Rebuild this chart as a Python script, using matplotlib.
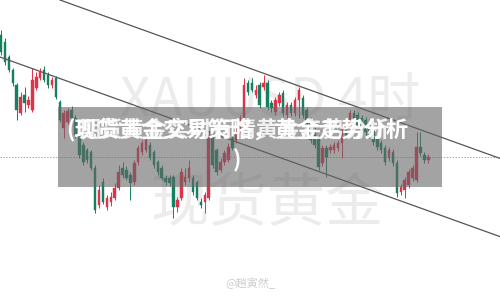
import matplotlib
matplotlib.use("Agg")
import matplotlib.pyplot as plt
from matplotlib.patches import Rectangle

plt.rcParams['font.family'] = ['Noto Sans CJK SC', 'DejaVu Sans']

# OHLC data (4h candles)
opens = [2265,2258,2243,2230,2215,2187,2205,2195,2190,2212,2222,2230,2225,2215,2222,2198,2172,2178,2190,2182,
         2165,2155,2150,2148,2132,2095,2118,2093,2098,2102,2112,2132,2130,2125,2118,2138,2148,2150,2155,2148,
         2138,2132,2122,2122,2123,2093,2102,2118,2122,2122,2118,2098,2098,2102,2163,2150,2130,2138,2140,2162,
         2160,2170,2172,2217,2217,2205,2215,2213,2217,2197,2188,2197,2207,2185,2195,2187,2200,2202,2190,2180,
         2170,2163,2137,2152,2150,2150,2152,2157,2175,2173,2187,2185,2182,2180,2178,2173,2163,2157,2152,2142,
         2148,2137,2108,2110,2115,2122,2120,2153,2145,2140]
closes = [2248,2238,2230,2217,2190,2203,2197,2200,2220,2223,2228,2220,2215,2220,2203,2180,2187,2189,2182,2165,
          2145,2138,2140,2132,2090,2110,2098,2102,2103,2112,2128,2125,2122,2117,2137,2152,2157,2160,2142,2135,
          2128,2122,2118,2117,2093,2100,2128,2123,2132,2108,2102,2095,2105,2165,2135,2128,2138,2147,2153,2152,
          2175,2182,2215,2208,2210,2210,2195,2217,2193,2192,2200,2205,2187,2195,2187,2200,2210,2185,2175,2160,
          2155,2133,2152,2143,2153,2155,2157,2173,2165,2187,2180,2175,2172,2168,2165,2158,2153,2150,2138,2150,
          2137,2107,2113,2120,2128,2132,2153,2147,2140,2143]
highs = [2270,2262,2245,2232,2217,2208,2213,2204,2232,2228,2232,2234,2228,2223,2224,2200,2190,2192,2194,2185,
         2168,2158,2152,2150,2135,2115,2122,2105,2108,2117,2135,2138,2134,2128,2140,2155,2160,2165,2158,2150,
         2140,2135,2125,2125,2125,2103,2132,2132,2140,2125,2120,2102,2108,2170,2167,2152,2142,2150,2157,2165,
         2178,2185,2222,2220,2222,2215,2218,2225,2220,2200,2203,2208,2210,2198,2198,2203,2213,2205,2193,2183,
         2173,2165,2155,2155,2156,2158,2160,2176,2178,2190,2190,2188,2185,2183,2181,2176,2166,2160,2155,2153,
         2151,2140,2116,2123,2131,2135,2168,2168,2148,2146]
lows = [2245,2235,2228,2214,2180,2185,2188,2192,2188,2210,2220,2218,2212,2212,2201,2178,2162,2176,2180,2162,
        2142,2135,2137,2130,2087,2092,2096,2090,2094,2100,2110,2122,2120,2100,2115,2135,2145,2148,2140,2132,
        2125,2120,2115,2114,2082,2088,2100,2115,2118,2105,2100,2092,2087,2100,2132,2125,2128,2135,2138,2150,
        2157,2167,2170,2205,2208,2202,2192,2210,2190,2188,2185,2194,2184,2182,2184,2184,2182,2182,2172,2157,
        2152,2130,2134,2123,2147,2147,2149,2142,2162,2170,2177,2172,2169,2165,2162,2155,2150,2147,2135,2139,
        2134,2103,2105,2102,2112,2119,2118,2144,2137,2137]

# trend channel anchors (candle index, price)
upper_idx = [15.05, 127.3]
upper_px = [2300, 2141.6]
lower_idx = [-0.26, 127.3]
lower_px = [2243.0, 2063.4]
current_price = 2143

title_main = "(现货黄金交易策略，黄金走势分析\n)"
title_overlay = "期货黄金实时行情黄金走势分析"
wm_top = "XAUUSD 4时"
wm_bottom = "现货黄金"
credit = "@趙寅然_"

UP = '#e0314b'
DOWN = '#15805f'

fig = plt.figure(figsize=(5.0, 2.96), dpi=100)
ax = fig.add_axes([0, 0, 1, 1])
ax.set_xlim(-0.255, 127.3)
ax.set_ylim(2300 - 296, 2300)
ax.axis('off')

# watermarks
ax.text(0.54, 0.66, wm_top, transform=ax.transAxes, ha='center', va='center',
        fontsize=38, color='#ececec', zorder=0)
ax.text(0.535, 0.31, wm_bottom, transform=ax.transAxes, ha='center', va='center',
        fontsize=42, color='#ececec', zorder=0)

# current price line
ax.axhline(current_price, color='#f08a8a', lw=0.7, ls=(0, (1.5, 1.5)), zorder=1)

# candles
for i, (o, c, h, l) in enumerate(zip(opens, closes, highs, lows)):
    col = UP if c >= o else DOWN
    ax.vlines(i, l, h, color=col, lw=0.7, zorder=2)
    ax.add_patch(Rectangle((i - 0.32, min(o, c)), 0.64, max(abs(c - o), 1.0),
                           facecolor=col, edgecolor=col, lw=0.3, zorder=2))

# trendlines
ax.plot(upper_idx, upper_px, color='#555555', lw=0.9, zorder=2)
ax.plot(lower_idx, lower_px, color='#555555', lw=0.9, zorder=2)

# gray overlay box
fig.patches.append(Rectangle((58 / 500, 1 - 187 / 296), 384 / 500, 80 / 296,
                             transform=fig.transFigure, facecolor='#666666',
                             alpha=0.6, edgecolor='none', zorder=3))

fig.text(0.475, 1 - 145 / 296, title_main, ha='center', va='center', fontsize=16,
         fontweight='bold', color='white', linespacing=1.4, zorder=4)
fig.text(0.468, 1 - 130 / 296, title_overlay, ha='center', va='center', fontsize=16,
         fontweight='bold', color='white', alpha=0.85, zorder=4)

fig.text(0.50, 1 - 283 / 296, credit, ha='center', va='center', fontsize=8,
         color='#cccccc', zorder=4)

fig.savefig('out.png', dpi=100)
